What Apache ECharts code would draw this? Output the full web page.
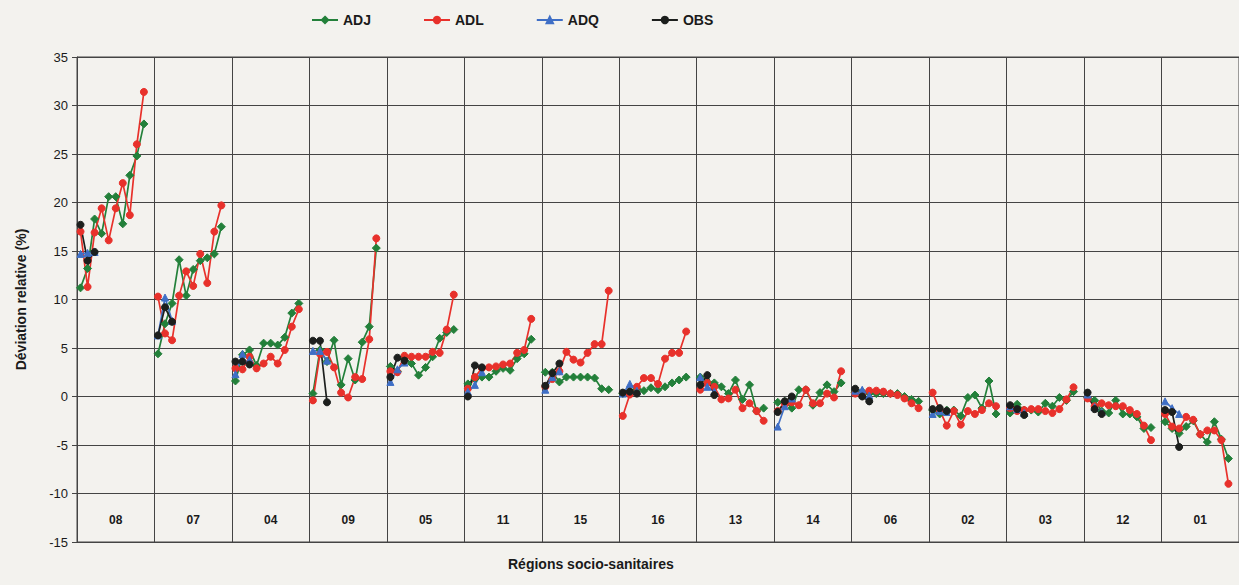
<!DOCTYPE html>
<html>
<head>
<meta charset="utf-8">
<script src="https://cdn.jsdelivr.net/npm/echarts@6/dist/echarts.min.js"></script>
<style>
  html, body { margin: 0; padding: 0; background: #f3f2ee; }
  #chart { width: 1239px; height: 585px; }
</style>
</head>
<body>
<div id="chart"></div>
<script>
// Régions socio-sanitaires, in display order
const regions = ['08', '07', '04', '09', '05', '11', '15', '16', '13', '14', '06', '02', '03', '12', '01'];

// Each region holds 10 yearly positions, followed by one empty slot
const SLOTS = 11;

// Déviation relative (%) per region
const adj = [
  [11.2, 13.2, 18.3, 16.8, 20.6, 20.6, 17.8, 22.8, 24.8, 28.1],
  [4.4, 7.5, 9.6, 14.1, 10.4, 13.1, 14.0, 14.3, 14.7, 17.5],
  [1.6, 4.3, 4.8, 3.2, 5.5, 5.5, 5.3, 6.1, 8.6, 9.6],
  [0.3, 4.8, 3.6, 5.8, 1.2, 3.9, 1.7, 5.6, 7.2, 15.3],
  [3.1, 2.6, 4.0, 3.4, 2.2, 3.0, 4.1, 6.0, 6.6, 6.9],
  [1.3, 1.8, 2.0, 2.0, 2.6, 2.9, 2.7, 3.9, 4.4, 5.9],
  [2.5, 2.5, 1.5, 2.0, 2.0, 2.0, 2.0, 1.9, 0.8, 0.7],
  [0.3, 0.5, 0.8, 0.6, 0.9, 0.7, 1.0, 1.4, 1.7, 2.0],
  [2.0, 1.5, 1.4, 1.0, 0.3, 1.7, -0.3, 1.2, -1.5, -1.2],
  [-0.6, -0.5, -1.2, 0.7, 0.7, -0.9, 0.4, 1.2, 0.5, 1.4],
  [0.4, 0.5, 0.3, 0.3, 0.3, 0.3, 0.3, 0.0, -0.3, -0.5],
  [-1.4, -1.8, -1.4, -1.4, -2.0, -0.1, 0.15, -1.2, 1.6, -1.8],
  [-1.7, -0.8, -1.4, -1.4, -1.6, -0.7, -1.0, -0.1, -0.4, 0.5],
  [-0.1, -0.4, -1.5, -1.7, -0.4, -1.8, -1.8, -2.1, -3.3, -3.2],
  [-2.6, -3.3, -3.8, -3.1, -2.5, -3.9, -4.7, -2.6, -4.4, -6.4]
];

const adl = [
  [17.0, 11.3, 16.9, 19.4, 16.1, 19.4, 22.0, 18.7, 26.0, 31.4],
  [10.3, 6.5, 5.8, 10.4, 12.9, 11.4, 14.7, 11.7, 17.0, 19.7],
  [2.9, 2.8, 4.1, 2.9, 3.4, 4.1, 3.4, 4.8, 7.2, 9.0],
  [-0.4, 4.4, 4.6, 3.0, 0.4, -0.1, 2.0, 1.8, 5.9, 16.3],
  [2.6, 2.5, 4.2, 4.1, 4.1, 4.1, 4.6, 4.5, 6.9, 10.5],
  [0.8, 2.0, 2.9, 3.0, 3.1, 3.3, 3.4, 4.5, 4.8, 8.0],
  [1.0, 1.8, 2.6, 4.6, 3.8, 3.5, 4.5, 5.4, 5.4, 10.9],
  [-2.0, 0.2, 1.0, 1.9, 1.9, 1.3, 3.9, 4.5, 4.5, 6.7],
  [0.7, 1.4, 1.0, -0.3, -0.2, 0.7, -1.2, -0.7, -1.5, -2.5],
  [-1.5, -0.8, -0.6, -0.9, 0.7, -0.7, -0.7, 0.3, -0.1, 2.6],
  [0.3, 0.25, 0.6, 0.6, 0.5, 0.3, 0.15, -0.2, -0.7, -1.2],
  [0.4, -1.4, -3.0, -1.5, -2.9, -1.5, -1.8, -1.4, -0.7, -1.0],
  [-1.2, -1.5, -1.4, -1.3, -1.3, -1.5, -1.7, -1.3, -0.3, 0.95],
  [-0.2, -1.0, -0.7, -0.9, -1.0, -1.0, -1.4, -1.8, -3.0, -4.5],
  [-1.8, -3.1, -3.3, -2.1, -2.4, -3.9, -3.5, -3.5, -4.5, -9.0]
];

const adq = [
  [14.7, 14.8, 14.9],
  [6.3, 10.2, 7.8],
  [2.3, 4.4, 3.8],
  [4.7, 4.7, 3.7],
  [1.5, 2.8, 3.5],
  [0.5, 1.2, 2.5],
  [0.7, 2.0, 2.6],
  [0.3, 1.3, 0.6],
  [2.0, 1.0, 0.5],
  [-3.1, -1.0, -0.2],
  [0.6, 0.7, 0.1],
  [-1.8, -1.5, -1.6],
  [-1.0, -1.3, -1.7],
  [0.2, -1.1, -1.6],
  [-0.5, -1.2, -1.8]
];

const obs = [
  [17.7, 14.0, 14.9],
  [6.3, 9.2, 7.7],
  [3.6, 3.6, 3.3],
  [5.75, 5.75, -0.6],
  [2.0, 4.0, 3.7],
  [0.0, 3.2, 3.0],
  [1.1, 2.4, 3.4],
  [0.4, 0.5, 0.3],
  [1.2, 2.2, 0.15],
  [-1.6, -0.5, 0.0],
  [0.8, 0.0, -0.5],
  [-1.3, -1.2, -1.5],
  [-0.9, -1.3, -1.9],
  [0.4, -1.3, -1.8],
  [-1.4, -1.6, -5.2]
];

// y-axis scale
const yMin = -15, yMax = 35, yStep = 5;

// Lay the per-region groups out on one continuous category axis,
// leaving gaps (null) so each region's line stays separate.
function flatten(groups) {
  const out = [];
  groups.forEach(g => {
    for (let i = 0; i < SLOTS; i++) out.push(i < g.length ? g[i] : null);
  });
  return out;
}
const slotCats = [];
for (let i = 0; i < regions.length * SLOTS; i++) slotCats.push(String(i));

const FONT = 'Liberation Sans, Arial, sans-serif';
const GRID_COLOR = '#444444';
const TEXT_COLOR = '#1a1a1a';

function lineSeries(name, data, color, symbol, size) {
  return {
    name: name,
    type: 'line',
    xAxisIndex: 0,
    data: flatten(data),
    connectNulls: false,
    symbol: symbol,
    symbolSize: size,
    showAllSymbol: true,
    lineStyle: { color: color, width: 1.7 },
    itemStyle: { color: color, borderColor: color, borderWidth: 1 },
    emphasis: { disabled: true },
    animation: false
  };
}

const chart = echarts.init(document.getElementById('chart'), null, { renderer: 'svg' });
chart.setOption({
  backgroundColor: '#f3f2ee',
  animation: false,
  legend: {
    top: 8,
    left: 306,
    itemWidth: 26,
    itemHeight: 8,
    itemGap: 52,
    textStyle: { fontFamily: FONT, fontWeight: 'bold', fontSize: 14, color: TEXT_COLOR },
    data: ['ADJ', 'ADL', 'ADQ', 'OBS']
  },
  graphic: [
    {
      type: 'text',
      left: 508,
      top: 557,
      style: {
        text: 'Régions socio-sanitaires',
        fontFamily: FONT,
        fontWeight: 'bold',
        fontSize: 14,
        fill: TEXT_COLOR
      }
    }
  ],
  grid: {
    left: 77,
    top: 57,
    width: 1167,
    height: 485,
    show: true,
    borderColor: GRID_COLOR,
    borderWidth: 1,
    backgroundColor: 'transparent'
  },
  xAxis: [
    {
      type: 'category',
      data: slotCats,
      boundaryGap: true,
      axisLine: { show: true, lineStyle: { color: GRID_COLOR } },
      axisTick: { show: false },
      axisLabel: { show: false },
      splitLine: { show: false }
    },
    {
      type: 'category',
      data: regions,
      boundaryGap: true,
      position: 'bottom',
      offset: -36,
      axisLine: { show: false },
      axisTick: { show: false },
      axisLabel: { fontFamily: FONT, fontWeight: 'bold', fontSize: 12, color: TEXT_COLOR, margin: 8 },
      splitLine: { show: true, interval: 0, lineStyle: { color: GRID_COLOR, width: 1 } }
    }
  ],
  yAxis: {
    type: 'value',
    min: yMin,
    max: yMax,
    interval: yStep,
    axisLine: { show: true, lineStyle: { color: GRID_COLOR } },
    axisTick: { show: true, length: 5, lineStyle: { color: GRID_COLOR } },
    axisLabel: { fontFamily: FONT, fontSize: 13, color: TEXT_COLOR, margin: 9 },
    splitLine: { show: true, lineStyle: { color: GRID_COLOR, width: 1 } },
    name: 'Déviation relative (%)',
    nameLocation: 'middle',
    nameGap: 49,
    nameRotate: 90,
    nameTextStyle: { fontFamily: FONT, fontWeight: 'bold', fontSize: 14, color: TEXT_COLOR }
  },
  series: [
    lineSeries('ADJ', adj, '#23803a', 'diamond', 8),
    lineSeries('ADL', adl, '#e8312b', 'circle', 7),
    lineSeries('ADQ', adq, '#3f6fc6', 'triangle', 7),
    lineSeries('OBS', obs, '#1c1f1d', 'circle', 7)
  ]
});
</script>
</body>
</html>
